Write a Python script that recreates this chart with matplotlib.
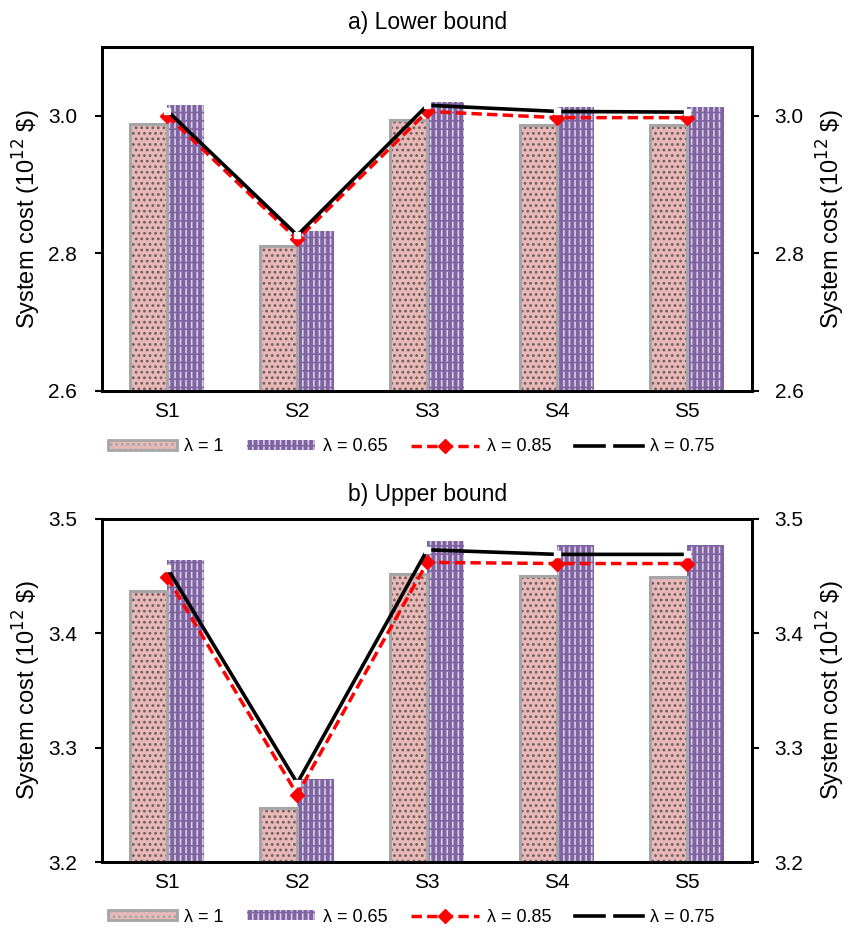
import numpy as np
import matplotlib
matplotlib.use("Agg")
import matplotlib.pyplot as plt
from matplotlib.lines import Line2D
from matplotlib.patches import Patch
from matplotlib.legend_handler import HandlerTuple

plt.rcParams["font.family"] = ["Liberation Sans", "DejaVu Sans"]
plt.rcParams["hatch.linewidth"] = 1.2

scenarios = ["S1", "S2", "S3", "S4", "S5"]

# a) Lower bound (10^12 $)
low_l1 = [2.988, 2.810, 2.994, 2.987, 2.987]
low_l065 = [3.015, 2.832, 3.020, 3.013, 3.012]
low_l085 = [3.000, 2.820, 3.006, 2.997, 2.997]
low_l075 = [3.007, 2.826, 3.015, 3.006, 3.005]

# b) Upper bound (10^12 $)
up_l1 = [3.437, 3.247, 3.452, 3.450, 3.449]
up_l065 = [3.464, 3.273, 3.481, 3.477, 3.477]
up_l085 = [3.449, 3.259, 3.462, 3.461, 3.461]
up_l075 = [3.457, 3.269, 3.473, 3.469, 3.469]

PINK = "#E6B9B8"
PINK_HATCH = "#735a5a"
PINK_EDGE = "#A6A6A6"
PURPLE = "#8064A2"
PURPLE_HATCH = "#D9CFE6"
YLABEL = "System cost (10$^{12}$ \\$)"


def draw_panel(ax, title, l1, l065, l085, l075, ylim, yticks, leg_y):
    x = np.arange(len(scenarios))
    w = 0.285
    base = ylim[0]
    h1 = np.array(l1) - base
    h2 = np.array(l065) - base
    # pink bars: dark speckles, grey border
    ax.bar(x - w / 2, h1, w, bottom=base, facecolor=PINK,
           edgecolor=PINK_HATCH, hatch="...", linewidth=0, zorder=2)
    ax.bar(x - w / 2, h1, w, bottom=base, fill=False, edgecolor=PINK_EDGE,
           linewidth=2.2, zorder=3)
    # purple bars: short light dashes (vertical hatch broken by purple rows)
    ax.bar(x + w / 2, h2, w, bottom=base, facecolor=PURPLE,
           edgecolor=PURPLE_HATCH, hatch="|||", linewidth=0, zorder=2)
    ax.bar(x + w / 2, h2, w, bottom=base, fill=False,
           edgecolor=PURPLE, hatch="--", linewidth=0, zorder=2)

    ax.plot(x, l085, color="red", ls=(0, (3, 1.5)), lw=2.5, marker="D",
            ms=7, mfc="red", mec="red", zorder=5)
    ax.plot(x, l075, color="black", lw=2.6, marker="s", ms=5,
            mfc="white", mec="white", zorder=6)

    ax.set_xlim(-0.5, len(scenarios) - 0.5)
    ax.set_ylim(*ylim)
    ax.set_yticks(yticks)
    ax.set_yticklabels([f"{v:.1f}" for v in yticks])
    ax.set_xticks(x)
    ax.set_xticklabels(scenarios)
    ax.tick_params(axis="x", length=0, labelsize=15, pad=8)
    ax.tick_params(axis="y", direction="out", length=5, width=1.5,
                   labelsize=15, pad=13)
    for s in ax.spines.values():
        s.set_linewidth(2)
    ax.set_ylabel(YLABEL, fontsize=17, labelpad=4)
    ax.set_title(title, fontsize=16.5, pad=13)

    ax2 = ax.twinx()
    ax2.set_ylim(*ylim)
    ax2.set_yticks(yticks)
    ax2.set_yticklabels([f"{v:.1f}" for v in yticks])
    ax2.tick_params(axis="y", direction="out", length=5, width=1.5,
                    labelsize=15, pad=11)
    ax2.set_ylabel(YLABEL, fontsize=17, labelpad=8)
    for s in ax2.spines.values():
        s.set_linewidth(2)

    pink_h = Patch(facecolor=PINK, edgecolor=PINK_EDGE, hatch="...",
                   linewidth=2)
    purple_h = (Patch(facecolor=PURPLE, edgecolor=PURPLE_HATCH, hatch="|||",
                      linewidth=0),
                Patch(fill=False, edgecolor=PURPLE, hatch="--", linewidth=0))
    red_h = Line2D([], [], color="red", ls=(0, (3, 1.5)), lw=2.5, marker="D",
                   ms=7)
    black_h = Line2D([], [], color="black", lw=2.6, marker="s", ms=5,
                     mfc="white", mec="white")
    labels = ["λ = 1", "λ = 0.65", "λ = 0.85", "λ = 0.75"]
    fig.legend([pink_h, purple_h, red_h, black_h], labels, ncol=4,
               loc="center left", bbox_to_anchor=(108 / 852, leg_y),
               frameon=False, fontsize=13, handlelength=3.8,
               handleheight=0.45, handletextpad=0.4, columnspacing=1.3,
               borderpad=0, borderaxespad=0,
               handler_map={tuple: HandlerTuple(ndivide=1)})


fig = plt.figure(figsize=(8.52, 9.35), dpi=100)
ax_a = fig.add_axes([0.120, 0.582, 0.763, 0.368])
ax_b = fig.add_axes([0.120, 0.078, 0.763, 0.367])

draw_panel(ax_a, "a) Lower bound", low_l1, low_l065, low_l085, low_l075,
           (2.6, 3.1), [2.6, 2.8, 3.0], 1 - 447 / 935)
draw_panel(ax_b, "b) Upper bound", up_l1, up_l065, up_l085, up_l075,
           (3.2, 3.5), [3.2, 3.3, 3.4, 3.5], 1 - 917 / 935)

fig.savefig("out.png", dpi=100, facecolor="white")
